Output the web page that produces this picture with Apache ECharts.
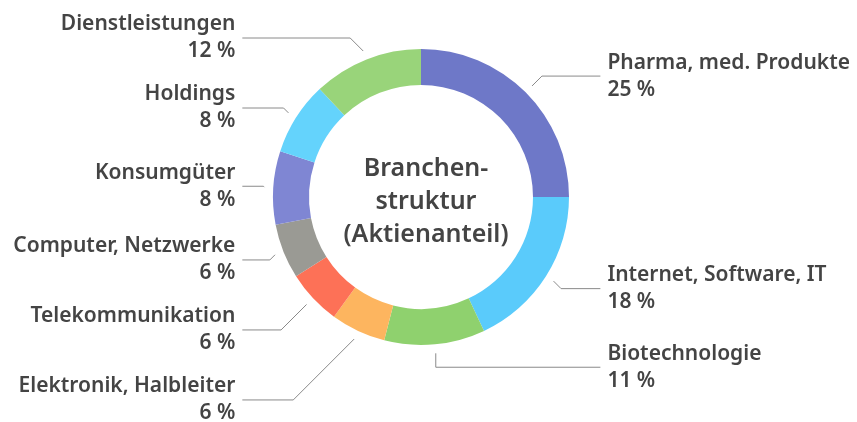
<!DOCTYPE html>
<html>
<head>
<meta charset="utf-8">
<script src="https://cdn.jsdelivr.net/npm/echarts@6/dist/echarts.min.js"></script>
<style>
html,body{margin:0;padding:0;background:#fff;}
#chart{width:857px;height:422px;}
</style>
</head>
<body>
<div id="chart"></div>
<script>
const categories = ["Pharma, med. Produkte","Internet, Software, IT","Biotechnologie","Elektronik, Halbleiter","Telekommunikation","Computer, Netzwerke","Konsumgüter","Holdings","Dienstleistungen"];
const values = [25, 18, 11, 6, 6, 6, 8, 8, 12];
const colors = ["#6e78c8","#5acbfb","#8fd16e","#fdb55f","#fd7157","#9a9a94","#7f86d3","#64d3fc","#99d47a"];
const centerTitle = "Branchen-\nstruktur\n(Aktienanteil)";

const FONT = "Noto Sans";
const CX = 421, CY = 197;
const total = values.reduce((a, b) => a + b, 0);
let cum = 0;
const data = categories.map((c, i) => ({ name: c, value: values[i], itemStyle: { color: colors[i] } }));
const labelData = categories.map((c, i) => {
  const mid = (cum + values[i] / 2) / total;
  cum += values[i];
  const rightSide = mid < 0.5;
  return { name: c, value: values[i], labelLine: { length2: rightSide ? 35 : 8 } };
});

// connector: first segment at 45° (vertical when the slice points almost straight down/up)
function connector(p) {
  const pts = p.labelLinePoints;
  if (!pts || pts.length < 3) return {};
  const s = pts[0], e = pts[pts.length - 1];
  const dy = e[1] - s[1];
  const rel = Math.abs(s[0] - CX) / Math.hypot(s[0] - CX, s[1] - CY);
  const side = e[0] < s[0] ? -1 : 1;
  let cx = rel < 0.2 ? s[0] : s[0] + side * Math.abs(dy);
  if (side < 0) cx = Math.max(cx, e[0]); else cx = Math.min(cx, e[0]);
  return { labelLinePoints: [[s[0], s[1]], [cx, e[1]], [e[0], e[1]]] };
}

const chart = echarts.init(document.getElementById('chart'), null, { renderer: 'canvas' });
chart.setOption({
  animation: false,
  backgroundColor: '#fff',
  title: {
    text: centerTitle,
    left: CX, top: CY,
    textAlign: 'center', textVerticalAlign: 'middle',
    textStyle: { fontFamily: FONT, fontSize: 25, fontWeight: 600, color: '#444', lineHeight: 33 }
  },
  series: [
    {
      type: 'pie', silent: true,
      center: [CX, CY], radius: [112, 148],
      label: { show: false }, labelLine: { show: false },
      data: data
    },
    {
      type: 'pie', silent: true,
      left: 0, top: 0, width: 857, height: 480,
      center: [CX, CY], radius: [112, 157],
      itemStyle: { color: 'rgba(0,0,0,0)' },
      label: {
        show: true, position: 'outer', alignTo: 'labelLine', bleedMargin: 0,
        distanceToLabelLine: 7, overflow: 'none',
        formatter: '{b}\n{c} %',
        fontFamily: FONT, fontSize: 21, fontWeight: 600, color: '#444', lineHeight: 27,
        padding: [7, 0]
      },
      labelLine: { show: true, length: 14, length2: 8, lineStyle: { color: '#8a8a8a', width: 1 } },
      labelLayout: connector,
      data: labelData
    }
  ]
});
</script>
</body>
</html>
